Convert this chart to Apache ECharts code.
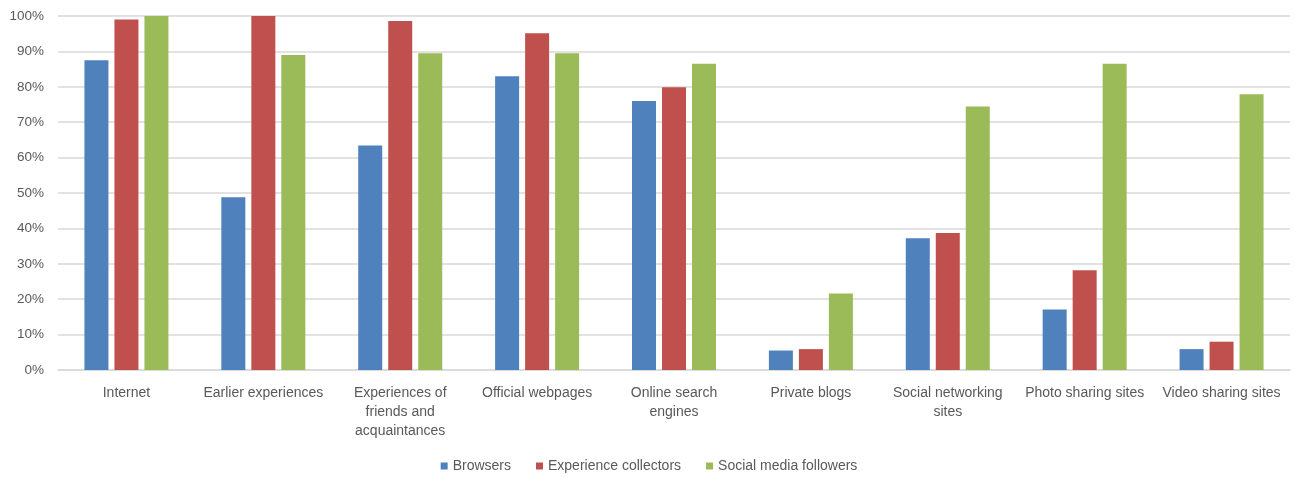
<!DOCTYPE html>
<html>
<head>
<meta charset="utf-8">
<script src="https://cdn.jsdelivr.net/npm/echarts@6/dist/echarts.min.js"></script>
<style>html,body{margin:0;padding:0;background:#fff}#c{width:1298px;height:477px}</style>
</head>
<body>
<div id="c"></div>
<script>
const categories = ["Internet", "Earlier experiences", "Experiences of\nfriends and\nacquaintances", "Official webpages", "Online search\nengines", "Private blogs", "Social networking\nsites", "Photo sharing sites", "Video sharing sites"];
const browsers = [87.5, 48.8, 63.4, 83.0, 76.0, 5.5, 37.2, 17.1, 5.9];
const experienceCollectors = [99.0, 100, 98.6, 95.1, 79.9, 5.9, 38.7, 28.2, 8.0];
const socialMediaFollowers = [100, 89.0, 89.5, 89.5, 86.5, 21.6, 74.4, 86.5, 77.9];
const seriesNames = ["Browsers", "Experience collectors", "Social media followers"];
const colors = ["#4F81BD", "#C0504D", "#9BBB59"];

const chart = echarts.init(document.getElementById('c'));
const font = "'Liberation Sans', 'DejaVu Sans', sans-serif";
chart.setOption({
  animation: false,
  color: colors,
  grid: {left: 58, right: 8, top: 16, bottom: 107, containLabel: false},
  legend: {
    top: 454, left: 'center',
    itemWidth: 7, itemHeight: 7, itemGap: 25,
    icon: 'rect',
    textStyle: {color: '#595959', fontSize: 14, fontFamily: font},
    data: seriesNames
  },
  xAxis: {
    type: 'category',
    data: categories,
    axisLine: {lineStyle: {color: '#D9D9D9', width: 1.5}},
    axisTick: {show: false},
    axisLabel: {interval: 0, color: '#595959', fontSize: 14, fontFamily: font, lineHeight: 19, margin: 14}
  },
  yAxis: {
    type: 'value', min: 0, max: 100, interval: 10,
    axisLabel: {formatter: '{value}%', color: '#595959', fontSize: 13.5, fontFamily: font, margin: 14},
    splitLine: {lineStyle: {color: '#D9D9D9', width: 1.5}},
    axisLine: {show: false}, axisTick: {show: false}
  },
  series: [
    {name: seriesNames[0], type: 'bar', data: browsers, barWidth: 24, barGap: '25%'},
    {name: seriesNames[1], type: 'bar', data: experienceCollectors, barWidth: 24, barGap: '25%'},
    {name: seriesNames[2], type: 'bar', data: socialMediaFollowers, barWidth: 24, barGap: '25%'}
  ]
});
</script>
</body>
</html>
